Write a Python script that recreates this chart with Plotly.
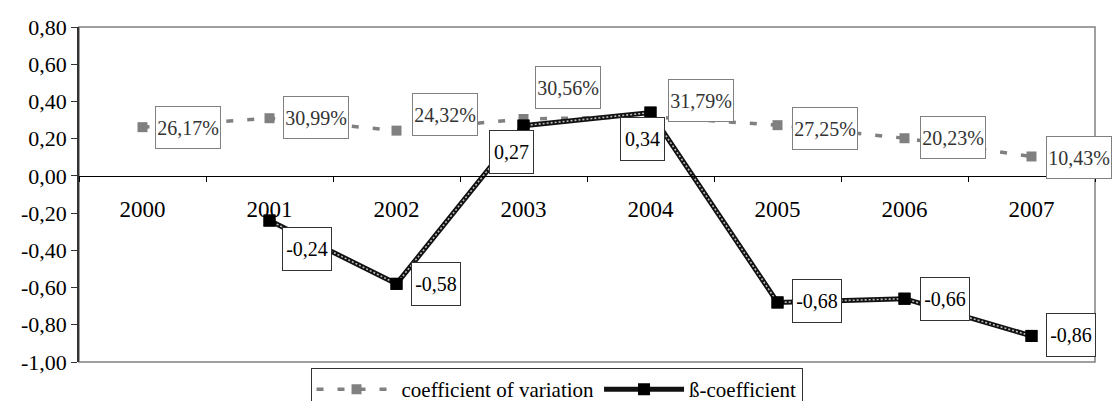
import plotly.graph_objects as go

years = ["2000", "2001", "2002", "2003", "2004", "2005", "2006", "2007"]
cv_values = [0.2617, 0.3099, 0.2432, 0.3056, 0.3179, 0.2725, 0.2023, 0.1043]
beta_values = [None, -0.24, -0.58, 0.27, 0.34, -0.68, -0.66, -0.86]
y_ticks = [-1.0, -0.8, -0.6, -0.4, -0.2, 0.0, 0.2, 0.4, 0.6, 0.8]

# label box offsets (pixels, screen dx, dy)
cv_offsets = [(45, 0), (46, -1), (48, -16), (44, -32), (50, -16), (47, 3), (48, -1), (47, 1)]
beta_offsets = [None, (37, 28), (39, 0), (-12, 26), (-8, 26), (39, -1), (40, 0), (39, -1)]

FONT = "Liberation Serif"
GRAY = "#808080"

fig = go.Figure()

fig.add_trace(go.Scatter(
    x=years, y=cv_values, mode="lines+markers", name="coefficient of variation",
    line=dict(color=GRAY, width=3.5, dash="7px,14px"),
    marker=dict(symbol="square", size=10, color=GRAY),
))

fig.add_trace(go.Scatter(
    x=years, y=beta_values, mode="lines+markers", name="ß-coefficient",
    line=dict(color="#111111", width=5),
    marker=dict(symbol="square", size=12, color="black"),
    connectgaps=False,
))
fig.add_trace(go.Scatter(
    x=years, y=beta_values, mode="lines", showlegend=False, hoverinfo="skip",
    line=dict(color="#bbbbbb", width=1.6, dash="2px,2px"),
))
fig.add_trace(go.Scatter(
    x=years, y=beta_values, mode="markers", showlegend=False, hoverinfo="skip",
    marker=dict(symbol="square", size=12, color="black"),
))

annotations = []
for i, (v, off) in enumerate(zip(cv_values, cv_offsets)):
    annotations.append(dict(
        x=i, y=v, xref="x", yref="y", showarrow=False,
        text=f"{v*100:.2f}%".replace(".", ","),
        xshift=off[0], yshift=-off[1],
        width=64, height=41, borderpad=0, borderwidth=1,
        bordercolor=GRAY, bgcolor="white",
        font=dict(family=FONT, size=20, color="#333333"),
    ))
for i, (v, off) in enumerate(zip(beta_values, beta_offsets)):
    if v is None:
        continue
    w = 43 if v > 0 else 48
    annotations.append(dict(
        x=i, y=v, xref="x", yref="y", showarrow=False,
        text=f"{v:.2f}".replace(".", ","),
        xshift=off[0], yshift=-off[1],
        width=w, height=42, borderpad=0, borderwidth=1,
        bordercolor="#333333", bgcolor="white",
        font=dict(family=FONT, size=20, color="black"),
    ))

fig.update_layout(
    width=1112, height=401,
    margin=dict(l=79, r=17, t=27, b=39, autoexpand=False),
    paper_bgcolor="white", plot_bgcolor="white",
    font=dict(family=FONT, size=20, color="black"),
    annotations=annotations,
    shapes=[dict(type="rect", xref="paper", yref="paper", x0=0, x1=1, y0=0, y1=1,
                 line=dict(color=GRAY, width=1.5), layer="below")],
    legend=dict(orientation="h", x=0.47, xanchor="center", y=-0.018, yanchor="top",
                bordercolor="#333333", borderwidth=1, bgcolor="white",
                font=dict(family=FONT, size=21, color="black"),
                itemwidth=80),
    showlegend=True,
)

fig.update_xaxes(
    type="category", categoryorder="array", categoryarray=years,
    range=[-0.5, 7.5], anchor="free", position=1/1.8,
    showline=True, linecolor="black", linewidth=1.2,
    ticks="outside", tickson="boundaries", ticklen=5, tickcolor="black",
    ticklabelstandoff=12, showgrid=False, zeroline=False,
    tickfont=dict(family=FONT, size=23, color="black"),
)
fig.update_yaxes(
    range=[-1.0, 0.8], tickvals=y_ticks,
    ticktext=[f"{t:.2f}".replace(".", ",") for t in y_ticks],
    showline=True, linecolor="#333333", linewidth=1.5,
    ticks="outside", ticklen=6, tickcolor="#333333",
    showgrid=False, zeroline=False,
    tickfont=dict(family=FONT, size=22, color="black"),
)

fig.write_html("out.html")
